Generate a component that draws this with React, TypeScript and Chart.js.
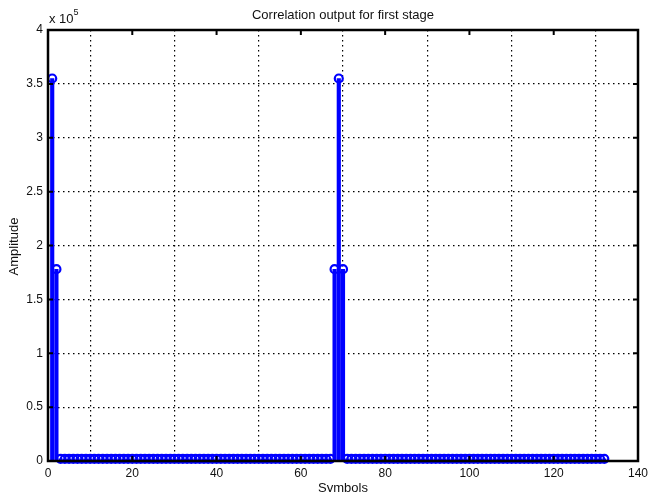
import React, { useEffect, useRef } from "react";
import { Chart, registerables } from "chart.js";

Chart.register(...registerables);

const title = "Correlation output for first stage";
const xLabel = "Symbols";
const yLabel = "Amplitude";
const exponentLabel = "x 10";
const exponentPower = "5";

const xTicks = [0, 20, 40, 60, 80, 100, 120, 140];
const yTicks = [0, 0.5, 1, 1.5, 2, 2.5, 3, 3.5, 4];
const yScaleFactor = 1e5;

// correlation amplitude for symbols 1..132
const amplitude = [
  355000, 178000,
  2000, 2000, 2000, 2000, 2000, 2000, 2000, 2000, 2000, 2000,
  2000, 2000, 2000, 2000, 2000, 2000, 2000, 2000, 2000, 2000,
  2000, 2000, 2000, 2000, 2000, 2000, 2000, 2000, 2000, 2000,
  2000, 2000, 2000, 2000, 2000, 2000, 2000, 2000, 2000, 2000,
  2000, 2000, 2000, 2000, 2000, 2000, 2000, 2000, 2000, 2000,
  2000, 2000, 2000, 2000, 2000, 2000, 2000, 2000, 2000, 2000,
  2000, 2000, 2000, 2000, 2000,
  178000, 355000, 178000,
  2000, 2000, 2000, 2000, 2000, 2000, 2000, 2000, 2000, 2000,
  2000, 2000, 2000, 2000, 2000, 2000, 2000, 2000, 2000, 2000,
  2000, 2000, 2000, 2000, 2000, 2000, 2000, 2000, 2000, 2000,
  2000, 2000, 2000, 2000, 2000, 2000, 2000, 2000, 2000, 2000,
  2000, 2000, 2000, 2000, 2000, 2000, 2000, 2000, 2000, 2000,
  2000, 2000, 2000, 2000, 2000, 2000, 2000, 2000, 2000, 2000,
  2000, 2000,
];

const FONT = '"Liberation Sans", Arial, sans-serif';

const decorPlugin = {
  id: "decor",
  afterDraw(chart: any) {
    const { ctx, chartArea } = chart;
    const { left, right, top, bottom } = chartArea;
    const xs = chart.scales.x;
    const ys = chart.scales.y;
    ctx.save();
    // inward ticks
    ctx.strokeStyle = "#000";
    ctx.lineWidth = 2;
    const tl = 5;
    ctx.beginPath();
    xTicks.forEach((v) => {
      const px = xs.getPixelForValue(v);
      ctx.moveTo(px, bottom);
      ctx.lineTo(px, bottom - tl);
      ctx.moveTo(px, top);
      ctx.lineTo(px, top + tl);
    });
    yTicks.forEach((v) => {
      const py = ys.getPixelForValue(v * yScaleFactor);
      ctx.moveTo(left, py);
      ctx.lineTo(left + tl, py);
      ctx.moveTo(right, py);
      ctx.lineTo(right - tl, py);
    });
    ctx.stroke();
    // box
    ctx.lineWidth = 2.5;
    ctx.strokeRect(left, top, right - left, bottom - top);

    ctx.fillStyle = "#111";
    // title
    ctx.font = "13px " + FONT;
    ctx.textAlign = "center";
    ctx.textBaseline = "middle";
    ctx.fillText(title, (left + right) / 2, 15);
    // exponent
    ctx.textAlign = "left";
    ctx.font = "13px " + FONT;
    ctx.fillText(exponentLabel, left + 1, 19);
    const w = ctx.measureText(exponentLabel).width;
    ctx.font = "9px " + FONT;
    ctx.fillText(exponentPower, left + 1 + w, 13);
    // axis labels
    ctx.font = "13px " + FONT;
    ctx.textAlign = "center";
    ctx.fillText(xLabel, (left + right) / 2, 488);
    ctx.translate(14, (top + bottom) / 2 + 1);
    ctx.rotate(-Math.PI / 2);
    ctx.fillText(yLabel, 0, 0);
    ctx.restore();
  },
};

export default function App() {
  const ref = useRef<HTMLCanvasElement>(null);
  useEffect(() => {
    if (!ref.current) return;
    const pts = amplitude.map((v, i) => ({ x: i + 1, y: v }));
    const chart = new Chart(ref.current, {
      type: "bar",
      data: {
        datasets: [
          {
            type: "bar",
            data: pts,
            backgroundColor: "#0000ff",
            barThickness: 3.5,
            order: 2,
          } as any,
          {
            type: "scatter",
            data: pts,
            showLine: false,
            pointStyle: "circle",
            pointRadius: 4,
            pointBorderWidth: 2.2,
            borderColor: "#0000ff",
            pointBorderColor: "#0000ff",
            pointBackgroundColor: "rgba(255,255,255,0)",
            clip: false,
            order: 1,
          } as any,
        ],
      },
      options: {
        animation: false,
        responsive: false,
        maintainAspectRatio: false,
        events: [],
        layout: { padding: { left: 0, top: 30, right: 11, bottom: 0 } },
        plugins: {
          legend: { display: false },
          tooltip: { enabled: false },
          title: { display: false },
        },
        scales: {
          x: {
            type: "linear",
            min: 0,
            max: 140,
            offset: false,
            afterFit: (s: any) => {
              s.height = 31;
              s.paddingLeft = 0;
              s.paddingRight = 0;
            },
            afterBuildTicks: (s: any) => {
              s.ticks = xTicks.map((v) => ({ value: v }));
            },
            ticks: {
              color: "#111",
              font: { family: FONT, size: 12 },
              padding: 5,
              maxRotation: 0,
              autoSkip: false,
            },
            grid: {
              color: "#000",
              lineWidth: 1.2,
              drawTicks: false,
            },
            border: { display: false, dash: [1.5, 3.5] },
          },
          y: {
            type: "linear",
            min: 0,
            max: 400000,
            afterFit: (s: any) => {
              s.width = 48;
              s.paddingTop = 0;
              s.paddingBottom = 0;
            },
            afterBuildTicks: (s: any) => {
              s.ticks = yTicks.map((v) => ({ value: v * yScaleFactor }));
            },
            ticks: {
              color: "#111",
              font: { family: FONT, size: 12 },
              padding: 5,
              autoSkip: false,
              callback: (v: any) => String(Number(v) / yScaleFactor),
            },
            grid: {
              color: "#000",
              lineWidth: 1.2,
              drawTicks: false,
            },
            border: { display: false, dash: [1.5, 3.5] },
          },
        },
      } as any,
      plugins: [decorPlugin],
    });
    return () => chart.destroy();
  }, []);
  return (
    <div style={{ position: "absolute", left: 0, top: 0, width: 649, height: 492, background: "#fff" }}>
      <canvas ref={ref} width={649} height={492} style={{ width: 649, height: 492, display: "block" }} />
    </div>
  );
}
